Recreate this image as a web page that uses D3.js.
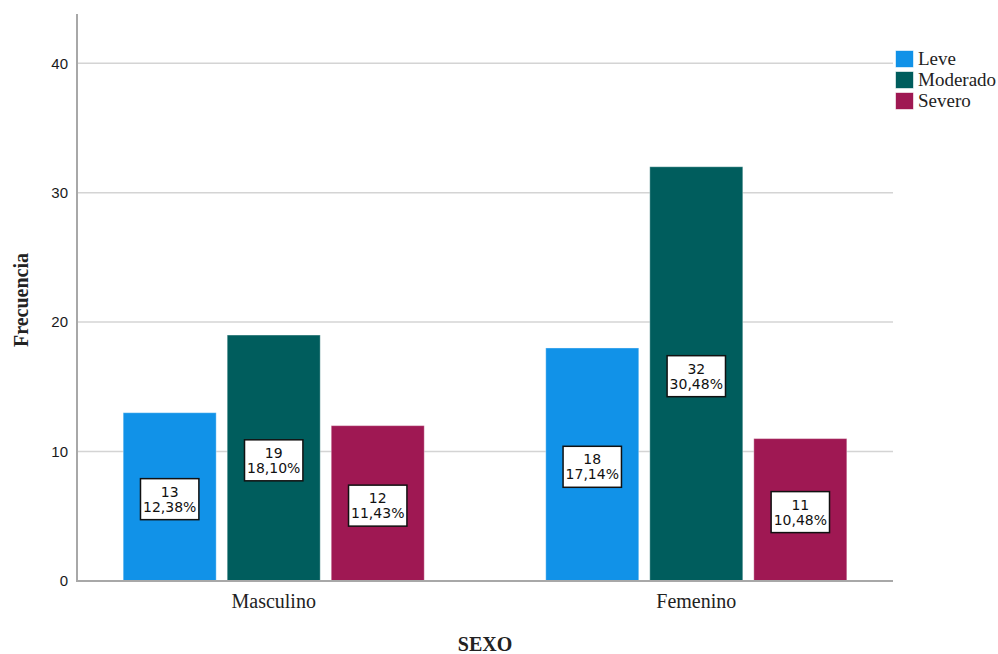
<!DOCTYPE html>
<html>
<head>
<meta charset="utf-8">
<script src="https://cdn.jsdelivr.net/npm/d3@7"></script>
<style>
  html, body { margin: 0; padding: 0; background: #fff; }
  svg { display: block; }
</style>
</head>
<body>
<div id="chart"></div>
<script>
// data
const categories = ["Masculino", "Femenino"];
const series = ["Leve", "Moderado", "Severo"];
const leveValues = [13, 18];
const moderadoValues = [19, 32];
const severoValues = [12, 11];
const levePct = ["12,38%", "17,14%"];
const moderadoPct = ["18,10%", "30,48%"];
const severoPct = ["11,43%", "10,48%"];
const yTicks = [0, 10, 20, 30, 40];
const colors = ["#1192e8", "#005d5d", "#9f1853"];

const width = 998, height = 654;
const plot = { left: 77, right: 893, top: 14, bottom: 581 };

const valuesBySeries = [leveValues, moderadoValues, severoValues];
const pctBySeries = [levePct, moderadoPct, severoPct];

const rows = [];
categories.forEach((c, i) => {
  series.forEach((s, j) => {
    rows.push({ cat: c, ser: s, value: valuesBySeries[j][i], pct: pctBySeries[j][i], color: colors[j] });
  });
});

const svg = d3.select("#chart").append("svg")
  .attr("width", width)
  .attr("height", height);

const x0 = d3.scaleBand()
  .domain(categories)
  .range([plot.left, plot.right])
  .paddingInner(0.069)
  .paddingOuter(0);

const x1 = d3.scaleBand()
  .domain(series)
  .range([0, x0.bandwidth()])
  .paddingInner(0.106)
  .paddingOuter(0.444);

const y = d3.scaleLinear()
  .domain([0, 43.8])
  .range([plot.bottom, plot.top]);

// gridlines
svg.append("g")
  .selectAll("line")
  .data(yTicks.filter(d => d > 0))
  .join("line")
  .attr("x1", plot.left)
  .attr("x2", plot.right)
  .attr("y1", d => y(d))
  .attr("y2", d => y(d))
  .attr("stroke", "#d4d4d4")
  .attr("stroke-width", 1.5);

// y axis tick labels
const yAxis = svg.append("g")
  .attr("transform", `translate(${plot.left},0)`)
  .call(d3.axisLeft(y).tickValues(yTicks).tickSize(0).tickPadding(9));
yAxis.select(".domain").remove();
yAxis.selectAll("text")
  .attr("font-family", "'Liberation Sans', Arial, sans-serif")
  .attr("font-size", 15)
  .attr("fill", "#1a1a1a");

// bars
svg.append("g")
  .selectAll("rect")
  .data(rows)
  .join("rect")
  .attr("x", d => x0(d.cat) + x1(d.ser))
  .attr("y", d => y(d.value))
  .attr("width", x1.bandwidth())
  .attr("height", d => y(0) - y(d.value))
  .attr("fill", d => d.color)
  .attr("stroke", "#ffffff")
  .attr("stroke-opacity", 0.35)
  .attr("stroke-width", 1);

// axis lines
svg.append("line")
  .attr("x1", plot.left).attr("x2", plot.left)
  .attr("y1", plot.top).attr("y2", plot.bottom + 1)
  .attr("stroke", "#a8a8a8").attr("stroke-width", 2);
svg.append("line")
  .attr("x1", plot.left).attr("x2", plot.right)
  .attr("y1", plot.bottom).attr("y2", plot.bottom)
  .attr("stroke", "#a8a8a8").attr("stroke-width", 2);

// value labels (count + percent in a box)
const labels = svg.append("g")
  .selectAll("g")
  .data(rows)
  .join("g")
  .attr("transform", d => {
    const cx = x0(d.cat) + x1(d.ser) + x1.bandwidth() / 2;
    const cy = (y(d.value) + y(0)) / 2 + 2.3;
    return `translate(${cx},${cy})`;
  });

labels.append("rect")
  .attr("fill", "#fff")
  .attr("stroke", "#111")
  .attr("stroke-width", 1.5);

labels.append("text")
  .attr("text-anchor", "middle")
  .attr("font-family", "'DejaVu Sans', Verdana, sans-serif")
  .attr("font-size", 14)
  .attr("fill", "#111")
  .selectAll("tspan")
  .data(d => [String(d.value), d.pct])
  .join("tspan")
  .attr("x", 0)
  .attr("y", (d, i) => i === 0 ? -2.5 : 12.5)
  .text(d => d);

labels.each(function () {
  const g = d3.select(this);
  const bb = g.select("text").node().getBBox();
  const w = Math.max(57, bb.width + 5);
  g.select("rect")
    .attr("x", -w / 2)
    .attr("y", -20.5)
    .attr("width", w)
    .attr("height", 41);
});

// category labels
svg.append("g")
  .selectAll("text")
  .data(categories)
  .join("text")
  .attr("x", d => x0(d) + x0.bandwidth() / 2)
  .attr("y", 608)
  .attr("text-anchor", "middle")
  .attr("font-family", "'Liberation Serif', 'Times New Roman', serif")
  .attr("font-size", 20)
  .attr("fill", "#222")
  .text(d => d);

// axis titles
svg.append("text")
  .attr("x", (plot.left + plot.right) / 2)
  .attr("y", 651)
  .attr("text-anchor", "middle")
  .attr("font-family", "'Liberation Serif', 'Times New Roman', serif")
  .attr("font-weight", "bold")
  .attr("font-size", 20)
  .attr("fill", "#222")
  .text("SEXO");

svg.append("text")
  .attr("transform", "translate(28,300) rotate(-90)")
  .attr("text-anchor", "middle")
  .attr("font-family", "'Liberation Serif', 'Times New Roman', serif")
  .attr("font-weight", "bold")
  .attr("font-size", 20)
  .attr("fill", "#222")
  .text("Frecuencia");

// legend
const legend = svg.append("g")
  .attr("transform", "translate(896,51)");

const legendItems = legend.selectAll("g")
  .data(series)
  .join("g")
  .attr("transform", (d, i) => `translate(0,${i * 21})`);

legendItems.append("rect")
  .attr("width", 17)
  .attr("height", 16)
  .attr("fill", (d, i) => colors[i])
  .attr("stroke", (d, i) => colors[i])
  .attr("stroke-opacity", 0.4)
  .attr("stroke-width", 1);

legendItems.append("text")
  .attr("x", 22)
  .attr("y", 14)
  .attr("font-family", "'Liberation Serif', 'Times New Roman', serif")
  .attr("font-size", 19)
  .attr("fill", "#222")
  .text(d => d);
</script>
</body>
</html>
